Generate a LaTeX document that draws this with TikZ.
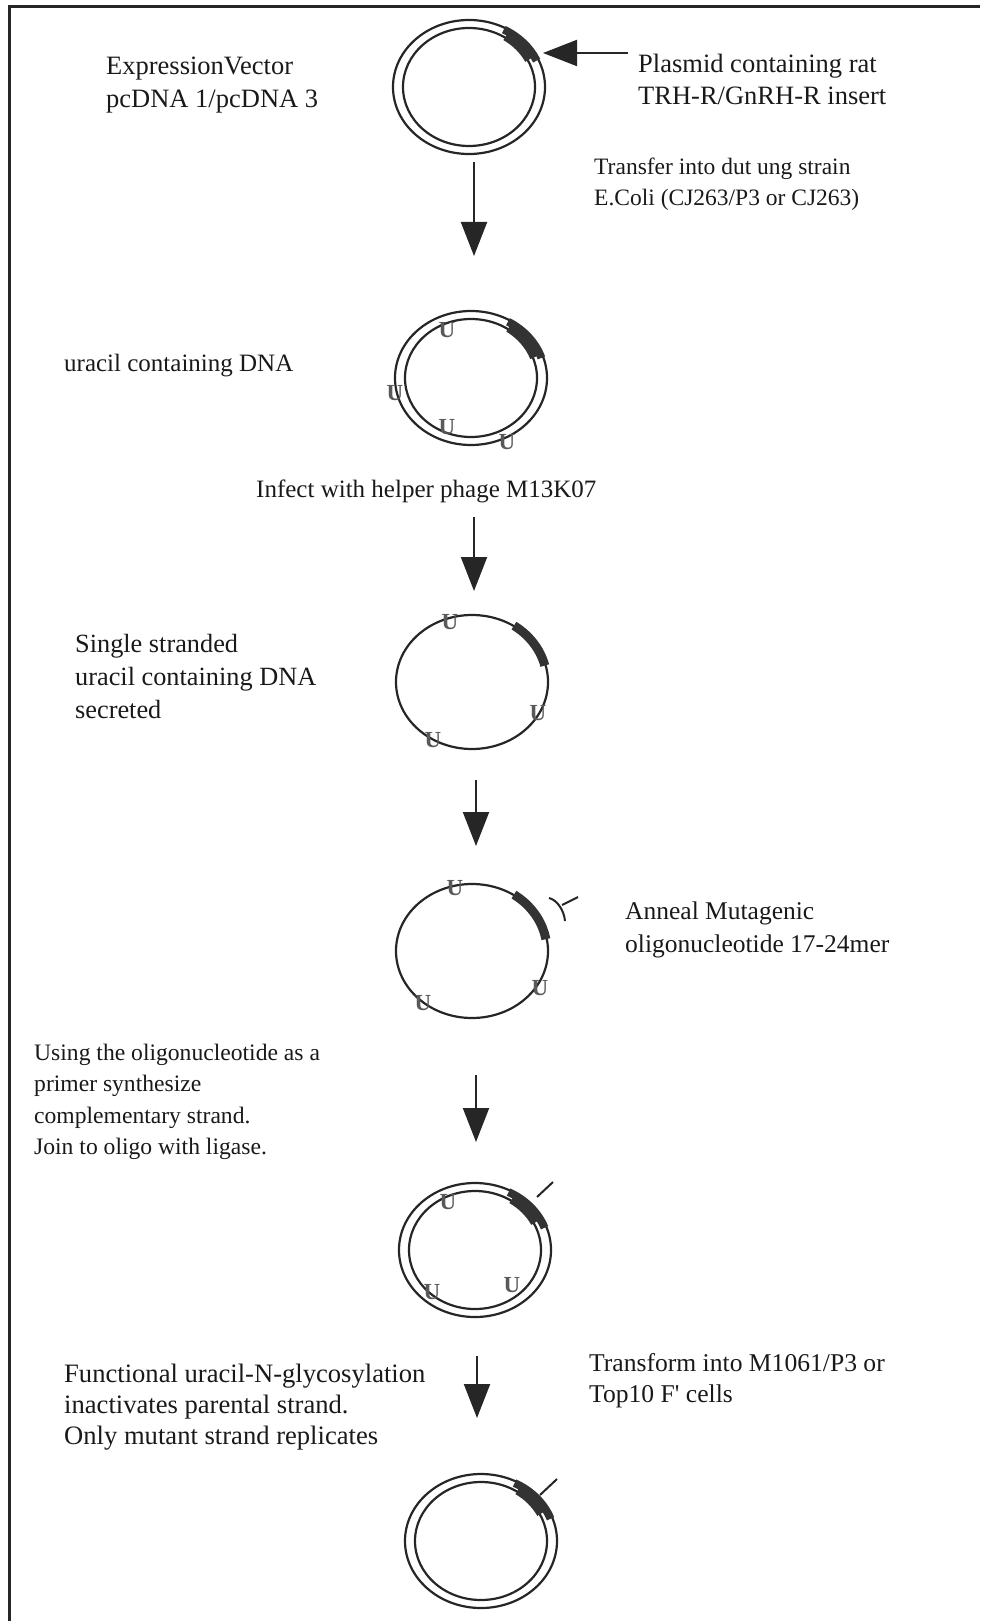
\documentclass[tikz,border=0pt]{standalone}
\usepackage{fontspec}
\setmainfont{Liberation Serif}
\newfontfamily\plainserif{Liberation Serif}
\usetikzlibrary{arrows.meta,shapes.geometric}
\begin{document}
\begin{tikzpicture}[x=1pt,y=-1pt,
  strand/.style={draw=black!85, line width=2.2pt},
  band/.style={draw=black!80, line width=8pt},
  flow/.style={draw=black!85, line width=2pt, -{Triangle[length=34pt,width=26pt]}},
  lbl/.style={anchor=base west, inner sep=0pt, font=\fontsize{25}{30}\selectfont, text=black!90},
  fs/.style={font=\fontsize{#1}{#1}\selectfont},
  ulbl/.style={inner sep=0pt, font=\bfseries\fontsize{23}{23}\selectfont, text=black!65},
  plasmid/.style={ellipse, strand, minimum width=152pt, minimum height=134pt, inner sep=0pt},
  tick/.style={draw=black!85, line width=2pt}
]
\useasboundingbox (0,0) rectangle (983,1621);
\draw[line width=3pt, black!85] (9,1621) -- (9,7) -- (980,7);

% plasmid 1
\node[plasmid] (p1) at (469,87) {};
\draw[strand] (p1.center) ellipse [x radius=66, y radius=59];
\draw[band] (p1.center) ++(-62:74 and 65) arc[start angle=-62, end angle=-24, x radius=74, y radius=65];
\draw[band] (p1.center) ++(-57:67 and 60) arc[start angle=-57, end angle=-27, x radius=67, y radius=60];

% plasmid 2
\node[plasmid] (p2) at (471,378) {};
\draw[strand] (p2.center) ellipse [x radius=66, y radius=59];
\draw[band] (p2.center) ++(-60:74 and 65) arc[start angle=-60, end angle=-18, x radius=74, y radius=65];
\draw[band] (p2.center) ++(-56:67 and 60) arc[start angle=-56, end angle=-20, x radius=67, y radius=60];
\node[ulbl] (u21) at (447,330) {U};
\node[ulbl] (u22) at (395,393) {U};
\node[ulbl] (u23) at (447,427) {U};
\node[ulbl] (u24) at (507,442) {U};

% plasmid 3
\node[plasmid] (p3) at (472,682) {};
\draw[band, line width=9pt] (p3.center) ++(-56:75 and 68) arc[start angle=-56, end angle=-14, x radius=75, y radius=68];
\node[ulbl] (u31) at (450,622) {U};
\node[ulbl] (u32) at (538,713) {U};
\node[ulbl] (u33) at (433,740) {U};

% plasmid 4
\node[plasmid] (p4) at (472,951) {};
\draw[band, line width=9pt] (p4.center) ++(-56:75 and 68) arc[start angle=-56, end angle=-10, x radius=75, y radius=68];
\node[ulbl] (u41) at (455,888) {U};
\node[ulbl] (u42) at (540,988) {U};
\node[ulbl] (u43) at (423,1003) {U};
\coordinate (o1) at (549,898);
\coordinate (o2) at (562,905);
\coordinate (o3) at (565,921);
\coordinate (o4) at (578,897);
\draw[tick] (o1) .. controls (557,900) and (564,910) .. (o3);
\draw[tick] (o2) -- (o4);

% plasmid 5
\node[plasmid] (p5) at (475,1250) {};
\draw[strand] (p5.center) ellipse [x radius=66, y radius=59];
\draw[band] (p5.center) ++(-63:74 and 65) arc[start angle=-63, end angle=-20, x radius=74, y radius=65];
\draw[band] (p5.center) ++(-57:67 and 60) arc[start angle=-57, end angle=-27, x radius=67, y radius=60];
\node[ulbl] (u51) at (448,1202) {U};
\node[ulbl] (u52) at (432,1292) {U};
\node[ulbl] (u53) at (512,1285) {U};
\coordinate (k5a) at (537,1197);
\coordinate (k5b) at (553,1182);
\draw[tick] (k5a) -- (k5b);

% plasmid 6
\node[plasmid] (p6) at (481,1541) {};
\draw[strand] (p6.center) ellipse [x radius=66, y radius=59];
\draw[band] (p6.center) ++(-63:74 and 65) arc[start angle=-63, end angle=-20, x radius=74, y radius=65];
\draw[band] (p6.center) ++(-57:67 and 60) arc[start angle=-57, end angle=-27, x radius=67, y radius=60];
\coordinate (k6a) at (540,1495);
\coordinate (k6b) at (557,1479);
\draw[tick] (k6a) -- (k6b);

% arrows
\coordinate (s0) at (628,53);
\coordinate (e0) at (543,53);
\draw[flow] (s0) -- (e0);
\coordinate (s1) at (474,162);  \coordinate (e1) at (474,256);
\coordinate (s2) at (474,517);  \coordinate (e2) at (474,591);
\coordinate (s3) at (476,780);  \coordinate (e3) at (476,846);
\coordinate (s4) at (476,1075); \coordinate (e4) at (476,1142);
\coordinate (s5) at (477,1356); \coordinate (e5) at (477,1418);
\draw[flow] (s1) -- (e1);
\draw[flow] (s2) -- (e2);
\draw[flow] (s3) -- (e3);
\draw[flow] (s4) -- (e4);
\draw[flow] (s5) -- (e5);

% texts
\node[lbl, fs=26.5] (t1a) at (106,75) {ExpressionVector};
\node[lbl, fs=26.5] (t1b) at (106,108) {pcDNA 1/pcDNA 3};
\node[lbl, fs=26.5] (t2a) at (638,73) {Plasmid containing rat};
\node[lbl, fs=26.5] (t2b) at (638,105) {TRH-R/GnRH-R insert};
\node[lbl, fs=23.5] (t3a) at (594,175) {Transfer into dut ung strain};
\node[lbl, fs=23.5] (t3b) at (594,206) {E.Coli (CJ263/P3 or CJ263)};
\node[lbl, fs=25] (t4) at (64,371) {uracil containing DNA};
\node[lbl, fs=25] (t5) at (256,497) {Infect with helper phage M13K07};
\node[lbl, fs=26.3] (t6a) at (75,652) {Single stranded};
\node[lbl, fs=26.3] (t6b) at (75,685) {uracil containing DNA};
\node[lbl, fs=26.3] (t6c) at (75,718) {secreted};
\node[lbl, fs=25.5] (t7a) at (625,919) {Anneal Mutagenic};
\node[lbl, fs=25.5] (t7b) at (625,952) {oligonucleotide 17-24mer};
\node[lbl, fs=23.6] (t8a) at (34,1060) {Using the oligonucleotide as a};
\node[lbl, fs=23.6] (t8b) at (34,1091) {primer synthesize};
\node[lbl, fs=23.6] (t8c) at (34,1123) {complementary strand.};
\node[lbl, fs=23.6] (t8d) at (34,1154) {Join to oligo with ligase.};
\node[lbl, fs=26.6] (t9a) at (64,1382) {Functional uracil-N-glycosylation};
\node[lbl, fs=26.6] (t9b) at (64,1413) {inactivates parental strand.};
\node[lbl, fs=26.6] (t9c) at (64,1444) {Only mutant strand replicates};
\node[lbl, fs=25.6] (t10a) at (589,1371) {Transform into M1061/P3 or};
\node[lbl, fs=25.6] (t10b) at (589,1402) {Top10 F{\plainserif '} cells};
\end{tikzpicture}
\end{document}
